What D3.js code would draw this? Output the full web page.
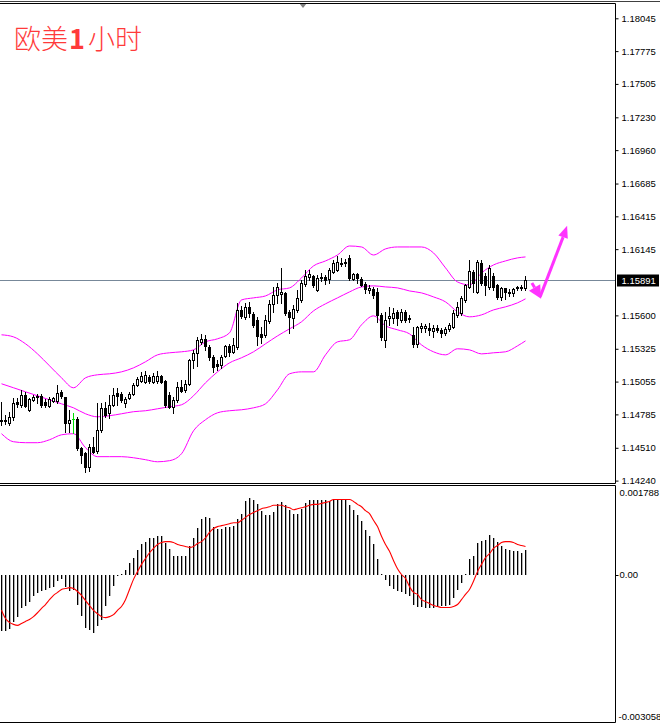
<!DOCTYPE html>
<html>
<head>
<meta charset="utf-8">
<script src="https://cdn.jsdelivr.net/npm/d3@7/dist/d3.min.js"></script>
<style>
  body { margin: 0; background: #fff; }
  svg { display: block; }
</style>
</head>
<body>
<svg id="chart" width="660" height="726"></svg>
<script>
// EURUSD H1 - candles, bollinger bands, macd
var titleParts = ["欧美", "1", "小时"];

var openP = [
  1.14741, 1.14741, 1.14716, 1.14765, 1.14889, 1.14864, 1.14946, 1.14823, 1.14905, 1.14938,
  1.14938, 1.14889, 1.14856, 1.14897, 1.14897, 1.14971, 1.14930, 1.14716, 1.14749, 1.14749,
  1.14511, 1.14469, 1.14354, 1.14519, 1.14486, 1.14659, 1.14839, 1.14798, 1.14864, 1.14963,
  1.14955, 1.14881, 1.14922, 1.14955, 1.15029, 1.15061, 1.15053, 1.15094, 1.15053, 1.15061,
  1.15103, 1.15061, 1.14946, 1.14848, 1.14905, 1.15012, 1.14987, 1.15037, 1.15234, 1.15292,
  1.15382, 1.15407, 1.15341, 1.15259, 1.15201, 1.15193, 1.15267, 1.15349, 1.15300, 1.15341,
  1.15645, 1.15588, 1.15670, 1.15612, 1.15563, 1.15448, 1.15440, 1.15555, 1.15695, 1.15769,
  1.15777, 1.15785, 1.15629, 1.15579, 1.15645, 1.15727, 1.15859, 1.15917, 1.15925, 1.15810,
  1.15908, 1.15917, 1.15900, 1.15958, 1.15974, 1.16023, 1.16032, 1.16073, 1.15900, 1.15941,
  1.15900, 1.15859, 1.15810, 1.15818, 1.15793, 1.15604, 1.15399, 1.15579, 1.15579, 1.15629,
  1.15563, 1.15629, 1.15579, 1.15440, 1.15366, 1.15497, 1.15497, 1.15497, 1.15473, 1.15497,
  1.15481, 1.15456, 1.15489, 1.15505, 1.15604, 1.15621, 1.15727, 1.15834, 1.15958, 1.15793,
  1.16032, 1.15925, 1.15834, 1.15925, 1.15851, 1.15752, 1.15826, 1.15793, 1.15785, 1.15826,
  1.15826, 1.15826
];
var highP = [
  1.14889, 1.14782, 1.14807, 1.14922, 1.14922, 1.14987, 1.14971, 1.14922, 1.14946, 1.14955,
  1.14955, 1.14913, 1.14930, 1.14930, 1.15029, 1.14987, 1.14930, 1.14823, 1.14798, 1.14765,
  1.14519, 1.14478, 1.14543, 1.14601, 1.14881, 1.14881, 1.14889, 1.14946, 1.15004, 1.15004,
  1.14971, 1.14930, 1.14971, 1.15045, 1.15094, 1.15135, 1.15144, 1.15111, 1.15127, 1.15144,
  1.15111, 1.15070, 1.14971, 1.14930, 1.15053, 1.15070, 1.15070, 1.15242, 1.15316, 1.15423,
  1.15448, 1.15440, 1.15357, 1.15275, 1.15234, 1.15275, 1.15357, 1.15366, 1.15415, 1.15703,
  1.15678, 1.15703, 1.15711, 1.15629, 1.15588, 1.15505, 1.15604, 1.15727, 1.15834, 1.15867,
  1.15991, 1.15793, 1.15645, 1.15686, 1.15810, 1.15892, 1.15974, 1.15974, 1.15933, 1.15933,
  1.15949, 1.15933, 1.15991, 1.16056, 1.16089, 1.16073, 1.16065, 1.16097, 1.15949, 1.15949,
  1.15917, 1.15875, 1.15851, 1.15834, 1.15826, 1.15621, 1.15629, 1.15670, 1.15662, 1.15645,
  1.15653, 1.15645, 1.15604, 1.15505, 1.15514, 1.15538, 1.15530, 1.15538, 1.15522, 1.15522,
  1.15497, 1.15505, 1.15538, 1.15645, 1.15711, 1.15760, 1.15859, 1.16056, 1.15974, 1.16056,
  1.16056, 1.15949, 1.16015, 1.15949, 1.15859, 1.15834, 1.15826, 1.15818, 1.15826, 1.15843,
  1.15851, 1.15925
];
var lowP = [
  1.14700, 1.14708, 1.14700, 1.14741, 1.14848, 1.14848, 1.14848, 1.14815, 1.14897, 1.14881,
  1.14848, 1.14848, 1.14848, 1.14889, 1.14881, 1.14922, 1.14642, 1.14642, 1.14634, 1.14494,
  1.14387, 1.14313, 1.14321, 1.14469, 1.14469, 1.14642, 1.14765, 1.14757, 1.14856, 1.14864,
  1.14889, 1.14848, 1.14913, 1.14946, 1.15020, 1.15053, 1.15045, 1.15045, 1.15045, 1.15045,
  1.15045, 1.14848, 1.14839, 1.14798, 1.14889, 1.14971, 1.14971, 1.15029, 1.15168, 1.15185,
  1.15366, 1.15316, 1.15234, 1.15135, 1.15152, 1.15168, 1.15259, 1.15267, 1.15292, 1.15325,
  1.15579, 1.15571, 1.15588, 1.15505, 1.15357, 1.15374, 1.15423, 1.15538, 1.15629, 1.15703,
  1.15703, 1.15604, 1.15456, 1.15497, 1.15629, 1.15711, 1.15843, 1.15892, 1.15834, 1.15801,
  1.15884, 1.15859, 1.15867, 1.15949, 1.15966, 1.16007, 1.16007, 1.15892, 1.15892, 1.15867,
  1.15843, 1.15785, 1.15785, 1.15744, 1.15547, 1.15399, 1.15341, 1.15522, 1.15538, 1.15522,
  1.15547, 1.15547, 1.15547, 1.15341, 1.15341, 1.15464, 1.15464, 1.15440, 1.15423, 1.15464,
  1.15423, 1.15440, 1.15473, 1.15497, 1.15588, 1.15604, 1.15711, 1.15826, 1.15793, 1.15785,
  1.15851, 1.15769, 1.15818, 1.15810, 1.15736, 1.15727, 1.15736, 1.15760, 1.15760, 1.15810,
  1.15810, 1.15810
];
var closeP = [
  1.14733, 1.14733, 1.14765, 1.14881, 1.14872, 1.14946, 1.14856, 1.14913, 1.14930, 1.14930,
  1.14864, 1.14864, 1.14913, 1.14922, 1.14963, 1.14938, 1.14716, 1.14741, 1.14749, 1.14511,
  1.14453, 1.14354, 1.14519, 1.14478, 1.14659, 1.14839, 1.14782, 1.14864, 1.14946, 1.14938,
  1.14905, 1.14913, 1.14955, 1.15029, 1.15078, 1.15103, 1.15111, 1.15061, 1.15103, 1.15103,
  1.15053, 1.14864, 1.14848, 1.14905, 1.15012, 1.14979, 1.15037, 1.15234, 1.15292, 1.15399,
  1.15407, 1.15349, 1.15259, 1.15177, 1.15185, 1.15259, 1.15349, 1.15300, 1.15357, 1.15645,
  1.15596, 1.15670, 1.15621, 1.15522, 1.15431, 1.15423, 1.15563, 1.15695, 1.15769, 1.15834,
  1.15793, 1.15621, 1.15588, 1.15653, 1.15744, 1.15867, 1.15925, 1.15941, 1.15851, 1.15908,
  1.15917, 1.15892, 1.15974, 1.16032, 1.16040, 1.16032, 1.16040, 1.15908, 1.15941, 1.15908,
  1.15851, 1.15818, 1.15826, 1.15769, 1.15604, 1.15423, 1.15563, 1.15596, 1.15621, 1.15579,
  1.15629, 1.15563, 1.15571, 1.15366, 1.15505, 1.15514, 1.15514, 1.15481, 1.15497, 1.15481,
  1.15456, 1.15489, 1.15522, 1.15621, 1.15670, 1.15744, 1.15851, 1.15966, 1.15867, 1.16040,
  1.15867, 1.15851, 1.15991, 1.15834, 1.15752, 1.15826, 1.15793, 1.15785, 1.15818, 1.15834,
  1.15834, 1.15891
];

// bollinger bands, read every 3rd bar
var bandIdx = [0, 3, 6, 9, 12, 15, 18, 21, 24, 27, 30, 33, 36, 39, 42, 45, 48, 51, 54, 57, 60, 63,
  66, 69, 72, 75, 78, 81, 84, 87, 90, 93, 96, 99, 102, 105, 108, 111, 114, 117, 120, 123, 126, 129, 131];
var bbUpper = [
  1.15440, 1.15423, 1.15366, 1.15283, 1.15185, 1.15086, 1.15004, 1.15086, 1.15111, 1.15119,
  1.15135, 1.15168, 1.15218, 1.15275, 1.15292, 1.15300, 1.15316, 1.15382, 1.15407, 1.15456,
  1.15727, 1.15744, 1.15760, 1.15810, 1.15826, 1.15908, 1.16007, 1.16048, 1.16097, 1.16171,
  1.16163, 1.16097, 1.16147, 1.16163, 1.16163, 1.16163, 1.16114, 1.15991, 1.15875, 1.15851,
  1.15949, 1.16015, 1.16048, 1.16073, 1.16081
];
var bbMiddle = [
  1.15037, 1.15004, 1.14971, 1.14938, 1.14905, 1.14872, 1.14839, 1.14790, 1.14765, 1.14774,
  1.14790, 1.14807, 1.14815, 1.14831, 1.14848, 1.14864, 1.14938, 1.15045, 1.15135, 1.15209,
  1.15251, 1.15300, 1.15366, 1.15431, 1.15489, 1.15547, 1.15637, 1.15695, 1.15744, 1.15793,
  1.15834, 1.15843, 1.15834, 1.15826, 1.15801, 1.15785, 1.15752, 1.15711, 1.15629, 1.15588,
  1.15604, 1.15645, 1.15670, 1.15703, 1.15736
];
var bbLower = [
  1.14626, 1.14560, 1.14552, 1.14552, 1.14576, 1.14617, 1.14626, 1.14511, 1.14437, 1.14437,
  1.14437, 1.14428, 1.14412, 1.14395, 1.14404, 1.14461, 1.14650, 1.14741, 1.14798, 1.14815,
  1.14823, 1.14839, 1.14872, 1.14987, 1.15119, 1.15135, 1.15135, 1.15275, 1.15382, 1.15399,
  1.15522, 1.15596, 1.15514, 1.15481, 1.15448, 1.15357, 1.15300, 1.15275, 1.15325, 1.15316,
  1.15283, 1.15292, 1.15300, 1.15349, 1.15390
];

var macdHist = [
  -0.00116, -0.00116, -0.00112, -0.00099, -0.00087, -0.00070, -0.00066, -0.00056, -0.00045, -0.00039,
  -0.00035, -0.00033, -0.00027, -0.00025, -0.00014, -0.00010, -0.00025, -0.00035, -0.00031, -0.00062,
  -0.00085, -0.00110, -0.00114, -0.00120, -0.00107, -0.00095, -0.00066, -0.00045, -0.00023, -0.00004,
  0.00001, 0.00010, 0.00023, 0.00035, 0.00050, 0.00064, 0.00068, 0.00076, 0.00076, 0.00079,
  0.00079, 0.00066, 0.00052, 0.00039, 0.00039, 0.00039, 0.00039, 0.00058, 0.00076, 0.00097,
  0.00114, 0.00118, 0.00116, 0.00099, 0.00095, 0.00095, 0.00099, 0.00099, 0.00101, 0.00114,
  0.00126, 0.00151, 0.00159, 0.00155, 0.00145, 0.00132, 0.00122, 0.00122, 0.00130, 0.00145,
  0.00149, 0.00143, 0.00134, 0.00126, 0.00126, 0.00136, 0.00147, 0.00155, 0.00155, 0.00155,
  0.00155, 0.00153, 0.00151, 0.00153, 0.00155, 0.00155, 0.00155, 0.00143, 0.00134, 0.00122,
  0.00110, 0.00091, 0.00079, 0.00064, 0.00033, 0.00001, -0.00012, -0.00023, -0.00029, -0.00035,
  -0.00037, -0.00041, -0.00045, -0.00064, -0.00068, -0.00068, -0.00070, -0.00070, -0.00070, -0.00068,
  -0.00066, -0.00066, -0.00062, -0.00048, -0.00031, -0.00017, 0.00002, 0.00033, 0.00039, 0.00066,
  0.00070, 0.00072, 0.00081, 0.00076, 0.00068, 0.00058, 0.00052, 0.00050, 0.00048, 0.00048,
  0.00045, 0.00050
];
var macdSignal = [
  -0.00074, -0.00091, -0.00099, -0.00103, -0.00105, -0.00101, -0.00097, -0.00093, -0.00087, -0.00079,
  -0.00070, -0.00062, -0.00052, -0.00043, -0.00037, -0.00031, -0.00029, -0.00027, -0.00029, -0.00035,
  -0.00043, -0.00054, -0.00064, -0.00074, -0.00081, -0.00087, -0.00089, -0.00087, -0.00083, -0.00074,
  -0.00066, -0.00052, -0.00031, -0.00010, 0.00006, 0.00021, 0.00033, 0.00045, 0.00054, 0.00062,
  0.00066, 0.00068, 0.00068, 0.00066, 0.00062, 0.00060, 0.00058, 0.00056, 0.00058, 0.00064,
  0.00068, 0.00076, 0.00087, 0.00095, 0.00099, 0.00101, 0.00103, 0.00105, 0.00107, 0.00107,
  0.00112, 0.00118, 0.00124, 0.00128, 0.00132, 0.00136, 0.00138, 0.00140, 0.00143, 0.00143,
  0.00143, 0.00140, 0.00138, 0.00134, 0.00136, 0.00138, 0.00140, 0.00143, 0.00145, 0.00145,
  0.00147, 0.00149, 0.00151, 0.00155, 0.00155, 0.00155, 0.00155, 0.00155, 0.00151, 0.00145,
  0.00140, 0.00132, 0.00126, 0.00112, 0.00099, 0.00079, 0.00062, 0.00048, 0.00029, 0.00012,
  0.00000, -0.00008, -0.00025, -0.00037, -0.00041, -0.00052, -0.00056, -0.00060, -0.00064, -0.00066,
  -0.00068, -0.00068, -0.00068, -0.00066, -0.00062, -0.00052, -0.00041, -0.00031, -0.00014, 0.00006,
  0.00021, 0.00035, 0.00043, 0.00054, 0.00060, 0.00066, 0.00068, 0.00068, 0.00066, 0.00062,
  0.00060, 0.00058
];

var priceTicks = [1.18045, 1.17775, 1.17505, 1.17230, 1.16960, 1.16685, 1.16415, 1.16145,
  1.15600, 1.15325, 1.15055, 1.14785, 1.14510, 1.14240];
var lastPrice = 1.15891;
var macdTicks = [0.001788, 0, -0.003058];
var macdTickLabels = ["0.001788", "0.00", "-0.003058"];

// hand drawn arrow (bar index, price)
var arrowIdx = [132.6, 134.9, 141.4];
var arrowPrice = [1.15867, 1.15736, 1.16337];

var axisX = 615.5;
var mainTop = 3.5, mainBottom = 483.5;
var macdTop = 485.5, macdBottom = 722.5;
var magenta = "#ff00ff";
var labelFont = "'Liberation Sans', Arial, sans-serif";

var svg = d3.select("#chart");

var x = d3.scaleLinear().domain([0, 131]).range([1.5, 525.5]);
var y = d3.scaleLinear().domain([1.14240, 1.18045]).range([480.6, 18.3]);
var ym = d3.scaleLinear().domain([-0.003058, 0.001788]).range([722.5, 488]);

var defs = svg.append("defs");
defs.append("clipPath").attr("id", "clipMain")
  .append("rect").attr("x", 0).attr("y", mainTop + 0.5).attr("width", axisX).attr("height", mainBottom - mainTop - 1);
defs.append("clipPath").attr("id", "clipMacd")
  .append("rect").attr("x", 0).attr("y", macdTop + 0.5).attr("width", axisX).attr("height", macdBottom - macdTop - 1);

var px = function(v) { return Math.round(v) + 0.5; };

// ---- main pane ----
var main = svg.append("g").attr("clip-path", "url(#clipMain)");

// current price line
main.append("line")
  .attr("x1", 0).attr("x2", axisX)
  .attr("y1", px(y(lastPrice))).attr("y2", px(y(lastPrice)))
  .style("stroke", "#778899").style("stroke-width", 1);

// bollinger bands
var bandLine = function(arr) {
  return d3.line()
    .x(function(d, k) { return x(bandIdx[k]); })
    .y(function(d) { return y(d); })
    .curve(d3.curveMonotoneX)(arr);
};
[bbUpper, bbMiddle, bbLower].forEach(function(arr) {
  main.append("path")
    .attr("d", bandLine(arr))
    .style("fill", "none")
    .style("stroke", magenta)
    .style("stroke-width", 1);
});

var candles = d3.range(openP.length).map(function(i) {
  return { i: i, o: openP[i], h: highP[i], l: lowP[i], c: closeP[i] };
});

var cg = main.selectAll("g.candle").data(candles).enter().append("g").attr("class", "candle");

cg.append("line")
  .attr("x1", function(d) { return x(d.i); })
  .attr("x2", function(d) { return x(d.i); })
  .attr("y1", function(d) { return Math.round(y(d.h)); })
  .attr("y2", function(d) { return Math.round(y(d.l)) + 1; })
  .style("stroke", function(d) { return d.o === d.c ? "#00e000" : "#000"; })
  .style("stroke-width", 1);

cg.each(function(d) {
  var g = d3.select(this);
  var yo = Math.round(y(d.o)), yc = Math.round(y(d.c));
  if (d.o === d.c) {
    g.append("line")
      .attr("x1", x(d.i) - 1.5).attr("x2", x(d.i) + 1.5)
      .attr("y1", yo + 0.5).attr("y2", yo + 0.5)
      .style("stroke", "#00e000");
  } else if (d.c > d.o) {
    g.append("rect")
      .attr("x", x(d.i) - 1).attr("width", 2)
      .attr("y", yc + 0.5).attr("height", Math.max(yo - yc, 1))
      .style("fill", "#fff").style("stroke", "#000").style("stroke-width", 1);
  } else {
    g.append("rect")
      .attr("x", x(d.i) - 1.5).attr("width", 3)
      .attr("y", yo).attr("height", Math.max(yc - yo, 1) + 1)
      .style("fill", "#000");
  }
});

// arrow annotation
var ap = arrowIdx.map(function(v, k) { return [x(v), y(arrowPrice[k])]; });
var head = function(p0, p1, len, half) {
  var dx = p1[0] - p0[0], dy = p1[1] - p0[1], dd = Math.sqrt(dx * dx + dy * dy);
  var ux = dx / dd, uy = dy / dd;
  var bx = p1[0] - ux * len, by = p1[1] - uy * len;
  return { tip: [p1[0], p1[1]], base: [bx, by],
    pts: [[p1[0], p1[1]], [bx - uy * half, by + ux * half], [bx + uy * half, by - ux * half]] };
};
var h1 = head(ap[0], ap[1], 13, 6.5);
var h2 = head(ap[1], ap[2], 12, 5);
var ag = svg.append("g");
ag.append("path")
  .attr("d", d3.line()([ap[0], h1.base]))
  .style("stroke", "#ff33ff").style("stroke-width", 3).style("fill", "none");
ag.append("path")
  .attr("d", d3.line()([[ap[1][0] - 1, ap[1][1] - 2], h2.base]))
  .style("stroke", "#ff33ff").style("stroke-width", 3).style("fill", "none");
[h1, h2].forEach(function(h) {
  ag.append("polygon")
    .attr("points", h.pts.map(function(p) { return p.join(","); }).join(" "))
    .style("fill", "#ff33ff");
});

// title
var title = svg.append("text")
  .attr("x", 14).attr("y", 49)
  .style("font-family", "'Noto Sans CJK SC', sans-serif")
  .style("font-size", "27px")
  .style("font-weight", 300)
  .style("fill", "#ff3a3a");
title.append("tspan").text(titleParts[0]);
title.append("tspan").attr("dx", 1).style("font-weight", "bold").text(titleParts[1]);
title.append("tspan").attr("dx", 3).text(titleParts[2]);

// chart shift marker at top
svg.append("path")
  .attr("d", "M299,3 L307,3 L303,8 Z")
  .style("fill", "#808080");

// price axis
var yAxis = d3.axisRight(y)
  .tickValues(priceTicks)
  .tickSize(3)
  .tickPadding(3)
  .tickFormat(d3.format(".5f"));
var ya = svg.append("g")
  .attr("transform", "translate(" + axisX + ",0)")
  .call(yAxis);
ya.select(".domain").remove();
ya.selectAll("text")
  .style("font-family", labelFont)
  .style("font-size", "9.5px")
  .style("fill", "#000");
ya.selectAll("line").style("stroke", "#000");

// last price box
var lp = px(y(lastPrice));
svg.append("rect")
  .attr("x", axisX + 1.5).attr("y", lp - 6)
  .attr("width", 42).attr("height", 12)
  .style("fill", "#000");
svg.append("text")
  .attr("x", axisX + 6).attr("y", lp)
  .attr("dy", "0.34em")
  .style("font-family", labelFont)
  .style("font-size", "9.5px")
  .style("fill", "#fff")
  .text(d3.format(".5f")(lastPrice));

// ---- macd pane ----
var mg = svg.append("g").attr("clip-path", "url(#clipMacd)");
var y0 = Math.round(ym(0));

mg.selectAll("rect.hist").data(macdHist).enter().append("rect")
  .attr("class", "hist")
  .attr("x", function(d, i) { return x(i) - 0.5; })
  .attr("width", 1.3)
  .attr("y", function(d) { return d >= 0 ? Math.round(ym(d)) : y0; })
  .attr("height", function(d) { return Math.max(Math.abs(Math.round(ym(d)) - y0), 1); })
  .style("fill", "#000");

mg.append("path")
  .attr("d", d3.line()
    .x(function(d, i) { return x(i); })
    .y(function(d) { return ym(d); })
    .curve(d3.curveMonotoneX)(macdSignal))
  .style("fill", "none")
  .style("stroke", "#ff0000")
  .style("stroke-width", 1.1);

macdTicks.forEach(function(v, k) {
  var ty = Math.max(493, Math.min(717, ym(v)));
  svg.append("text")
    .attr("x", axisX + (v < 0 ? 3 : 4)).attr("y", ty)
    .attr("dy", "0.34em")
    .style("font-family", labelFont)
    .style("font-size", "9.5px")
    .style("fill", "#000")
    .text(macdTickLabels[k]);
});
svg.append("line")
  .attr("x1", axisX).attr("x2", axisX + 3)
  .attr("y1", y0 + 0.5).attr("y2", y0 + 0.5)
  .style("stroke", "#000");

// ---- frames ----
var frame = [
  [0, 1.5, 660, 1.5, "#404040"],
  [0, mainTop, axisX, mainTop, "#000"],
  [0, mainBottom, axisX, mainBottom, "#000"],
  [axisX, mainTop, axisX, mainBottom, "#000"],
  [0, macdTop, axisX, macdTop, "#000"],
  [0, macdBottom, axisX, macdBottom, "#000"],
  [axisX, macdTop, axisX, macdBottom, "#000"]
];
svg.selectAll("line.frame").data(frame).enter().append("line")
  .attr("class", "frame")
  .attr("x1", function(d) { return d[0]; })
  .attr("y1", function(d) { return d[1]; })
  .attr("x2", function(d) { return d[2]; })
  .attr("y2", function(d) { return d[3]; })
  .style("stroke", function(d) { return d[4]; })
  .style("stroke-width", 1);

console.log("candles drawn", candles.length, "macd bars", macdHist.length);
</script>
</body>
</html>
